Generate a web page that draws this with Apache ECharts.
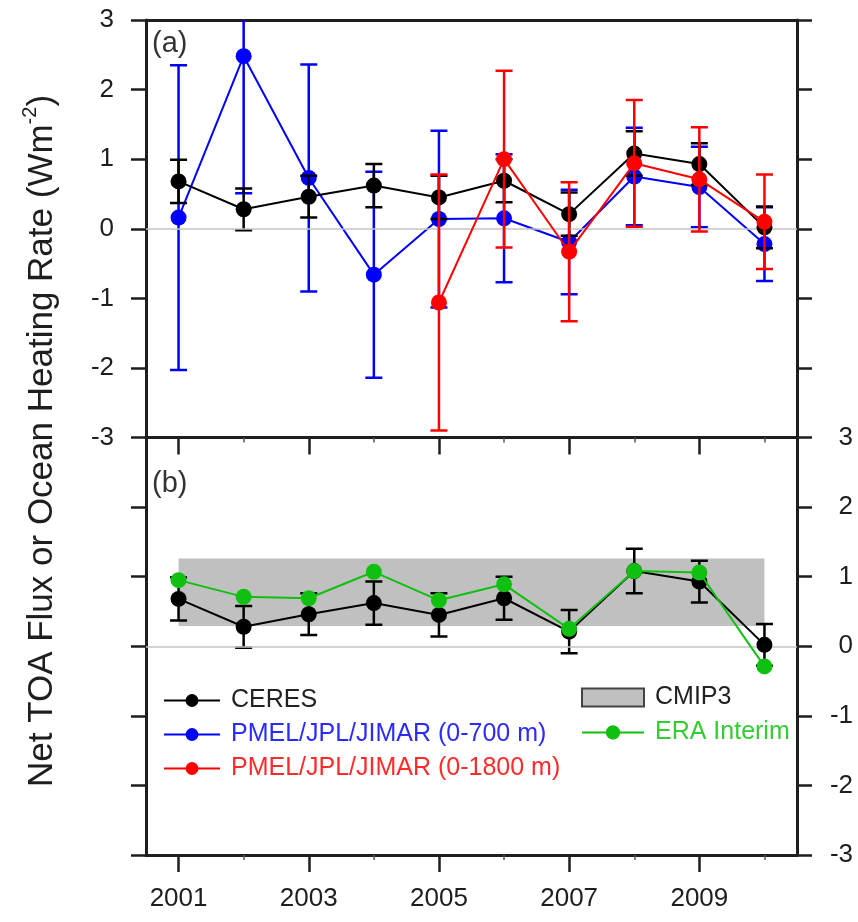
<!DOCTYPE html>
<html>
<head>
<meta charset="utf-8">
<script src="https://cdn.jsdelivr.net/npm/echarts@6/dist/echarts.min.js"></script>
<style>
  html, body { margin: 0; padding: 0; background: #ffffff; }
  #chart { width: 858px; height: 922px; }
</style>
</head>
<body>
<div id="chart"></div>
<script>
// Annual values, W m-2
const years = [2001, 2002, 2003, 2004, 2005, 2006, 2007, 2008, 2009, 2010];
const ceres = [0.68, 0.28, 0.46, 0.62, 0.45, 0.69, 0.21, 1.08, 0.93, 0.02];
const ceresErr = [0.31, 0.30, 0.30, 0.31, 0.31, 0.31, 0.31, 0.32, 0.30, 0.30];
const pmel700 = [0.16, 2.48, 0.73, -0.66, 0.14, 0.15, -0.19, 0.75, 0.60, -0.22];
const pmel700Err = [2.19, 1.97, 1.63, 1.48, 1.27, 0.92, 0.75, 0.70, 0.58, 0.53];
const pmel1800Years = [2005, 2006, 2007, 2008, 2009, 2010];
const pmel1800 = [-1.06, 1.00, -0.33, 0.94, 0.71, 0.10];
const pmel1800Err = [1.84, 1.27, 1.00, 0.91, 0.75, 0.68];
const eraInterim = [0.95, 0.71, 0.69, 1.07, 0.66, 0.89, 0.25, 1.08, 1.06, -0.29];
const cmip3Years = [2001, 2010];
const cmip3Range = [0.29, 1.26];
const labelYears = [2001, 2003, 2005, 2007, 2009];
const minorYears = [2002, 2004, 2006, 2008, 2010];

const FONT = '"Liberation Sans", Arial, Helvetica, sans-serif';
const INK = '#1e1e1e';
const BLUE = '#0000ff', RED = '#ff0000', BLACK = '#000000', GREEN = '#10c010';

const chart = echarts.init(document.getElementById('chart'), null, { renderer: 'canvas' });

function pairs(xs, ys) { return xs.map((x, i) => [x, ys[i]]); }
function bars(xs, ys, es) { return xs.map((x, i) => [x, ys[i] - es[i], ys[i] + es[i]]); }

function errorBars(color) {
  return function (params, api) {
    const x = api.value(0);
    const lo = api.coord([x, api.value(1)]);
    const hi = api.coord([x, api.value(2)]);
    const half = 8.5;
    const style = { stroke: color, lineWidth: 2.5 };
    return {
      type: 'group',
      children: [
        { type: 'line', shape: { x1: lo[0], y1: lo[1], x2: hi[0], y2: hi[1] }, style },
        { type: 'line', shape: { x1: lo[0] - half, y1: lo[1], x2: lo[0] + half, y2: lo[1] }, style },
        { type: 'line', shape: { x1: hi[0] - half, y1: hi[1], x2: hi[0] + half, y2: hi[1] }, style }
      ]
    };
  };
}

function bandRender(params, api) {
  const a = api.coord([api.value(0), api.value(3)]);
  const b = api.coord([api.value(1), api.value(2)]);
  return {
    type: 'rect',
    shape: { x: a[0], y: a[1], width: b[0] - a[0], height: b[1] - a[1] },
    style: { fill: '#c0c0c0' }
  };
}

const zeroLine = {
  silent: true, symbol: 'none', label: { show: false },
  lineStyle: { color: '#c4c4c4', width: 1.5, type: 'solid' },
  data: [{ yAxis: 0 }]
};

function xMajor(grid, showLabel) {
  return {
    type: 'value', gridIndex: grid, min: 2000.5, max: 2010.5, position: 'bottom',
    axisLine: { show: true, onZero: false, lineStyle: { color: INK, width: 3 } },
    axisTick: { show: true, customValues: labelYears, length: 17, lineStyle: { color: INK, width: 2.5 } },
    axisLabel: { show: showLabel, customValues: labelYears, fontSize: 26, fontFamily: FONT, color: INK, margin: 31,
                 formatter: v => String(v) },
    splitLine: { show: false }
  };
}
function xMinor(grid) {
  return {
    type: 'value', gridIndex: grid, min: 2000.5, max: 2010.5, position: 'bottom',
    axisLine: { show: false, onZero: false },
    axisTick: { show: true, customValues: minorYears, length: 5, lineStyle: { color: '#555', width: 1.5 } },
    axisLabel: { show: false }, splitLine: { show: false }
  };
}
function yAxisDef(grid, pos, showLabel) {
  return {
    type: 'value', gridIndex: grid, min: -3, max: 3, interval: 1, position: pos,
    axisLine: { show: true, onZero: false, lineStyle: { color: INK, width: 3 } },
    axisTick: { show: true, length: 15, lineStyle: { color: INK, width: 2.5 } },
    axisLabel: {
      show: showLabel, fontSize: 26, fontFamily: FONT, color: INK,
      margin: pos === 'left' ? 32 : 56, align: 'right'
    },
    splitLine: { show: false }
  };
}

const option = {
  animation: false,
  backgroundColor: '#ffffff',
  grid: [
    { left: 146, right: 61, top: 20, height: 417.5 },
    { left: 146, right: 61, top: 437.5, height: 417.5 }
  ],
  xAxis: [
    xMajor(0, false),
    xMinor(0),
    { type: 'value', gridIndex: 0, min: 2000.5, max: 2010.5, position: 'top',
      axisLine: { show: true, onZero: false, lineStyle: { color: INK, width: 3 } },
      axisTick: { show: false }, axisLabel: { show: false }, splitLine: { show: false } },
    xMajor(1, true),
    xMinor(1)
  ],
  yAxis: [
    yAxisDef(0, 'left', true),
    yAxisDef(0, 'right', false),
    yAxisDef(1, 'left', false),
    yAxisDef(1, 'right', true)
  ],
  legend: [
    {
      orient: 'vertical', left: 158, top: 683, itemWidth: 56, itemHeight: 16, itemGap: 9,
      selectedMode: false,
      textStyle: { fontSize: 25, fontFamily: FONT, lineHeight: 25, padding: [0, 0, 0, 6] },
      data: [
        { name: 'CERES', textStyle: { color: '#222' } },
        { name: 'PMEL/JPL/JIMAR (0-700 m)', textStyle: { color: '#2b2bff' } },
        { name: 'PMEL/JPL/JIMAR (0-1800 m)', textStyle: { color: '#ff2b2b' } }
      ]
    },
    {
      orient: 'vertical', left: 576, top: 680, itemWidth: 62, itemHeight: 18, itemGap: 10,
      selectedMode: false,
      textStyle: { fontSize: 25, fontFamily: FONT, lineHeight: 25, padding: [0, 0, 0, 6] },
      data: [
        { name: 'CMIP3', icon: 'rect', itemStyle: { color: '#c0c0c0', borderColor: '#444', borderWidth: 2 },
          textStyle: { color: '#222' } },
        { name: 'ERA Interim', textStyle: { color: '#33cc33' } }
      ]
    }
  ],
  graphic: [
    { type: 'text', x: 152, y: 29, style: { text: '(a)', font: '29px ' + FONT, fill: '#333' } },
    { type: 'text', x: 152, y: 469, style: { text: '(b)', font: '29px ' + FONT, fill: '#333' } },
    {
      type: 'text', x: 40, y: 441, rotation: Math.PI / 2,
      style: {
        text: '{m|Net TOA Flux or Ocean Heating Rate (Wm}{s|-2}{m|)}',
        align: 'center', verticalAlign: 'middle',
        rich: {
          m: { fontSize: 35, fontFamily: FONT, fill: INK, lineHeight: 40, verticalAlign: 'bottom' },
          s: { fontSize: 20, fontFamily: FONT, fill: INK, lineHeight: 40, verticalAlign: 'top' }
        }
      }
    }
  ],
  series: [
    // panel (a)
    { name: 'blue-err', type: 'custom', xAxisIndex: 0, yAxisIndex: 0, clip: true, z: 2,
      renderItem: errorBars(BLUE), data: bars(years, pmel700, pmel700Err), markLine: zeroLine },
    { name: 'PMEL/JPL/JIMAR (0-700 m)', type: 'line', xAxisIndex: 0, yAxisIndex: 0, z: 3,
      data: pairs(years, pmel700), symbol: 'circle', symbolSize: 16, color: BLUE,
      lineStyle: { width: 2, color: BLUE }, itemStyle: { color: BLUE } },
    { name: 'black-err', type: 'custom', xAxisIndex: 0, yAxisIndex: 0, clip: true, z: 4,
      renderItem: errorBars(BLACK), data: bars(years, ceres, ceresErr) },
    { name: 'CERES', type: 'line', xAxisIndex: 0, yAxisIndex: 0, z: 5,
      data: pairs(years, ceres), symbol: 'circle', symbolSize: 16, color: BLACK,
      lineStyle: { width: 2, color: BLACK }, itemStyle: { color: BLACK } },
    { name: 'red-err', type: 'custom', xAxisIndex: 0, yAxisIndex: 0, clip: true, z: 6,
      renderItem: errorBars(RED), data: bars(pmel1800Years, pmel1800, pmel1800Err) },
    { name: 'PMEL/JPL/JIMAR (0-1800 m)', type: 'line', xAxisIndex: 0, yAxisIndex: 0, z: 7,
      data: pairs(pmel1800Years, pmel1800), symbol: 'circle', symbolSize: 16, color: RED,
      lineStyle: { width: 2, color: RED }, itemStyle: { color: RED } },

    // panel (b)
    { name: 'CMIP3', type: 'custom', xAxisIndex: 3, yAxisIndex: 2, clip: true, z: 1,
      color: '#c0c0c0', itemStyle: { color: '#c0c0c0' },
      renderItem: bandRender, data: [[cmip3Years[0], cmip3Years[1], cmip3Range[0], cmip3Range[1]]],
      markLine: zeroLine },
    { name: 'black-err-b', type: 'custom', xAxisIndex: 3, yAxisIndex: 2, clip: true, z: 4,
      renderItem: errorBars(BLACK), data: bars(years, ceres, ceresErr) },
    { name: 'CERES', type: 'line', xAxisIndex: 3, yAxisIndex: 2, z: 5,
      data: pairs(years, ceres), symbol: 'circle', symbolSize: 16, color: BLACK,
      lineStyle: { width: 2, color: BLACK }, itemStyle: { color: BLACK } },
    { name: 'ERA Interim', type: 'line', xAxisIndex: 3, yAxisIndex: 2, z: 6,
      data: pairs(years, eraInterim), symbol: 'circle', symbolSize: 16, color: GREEN,
      lineStyle: { width: 2, color: GREEN }, itemStyle: { color: GREEN } }
  ]
};

chart.setOption(option);
</script>
</body>
</html>
